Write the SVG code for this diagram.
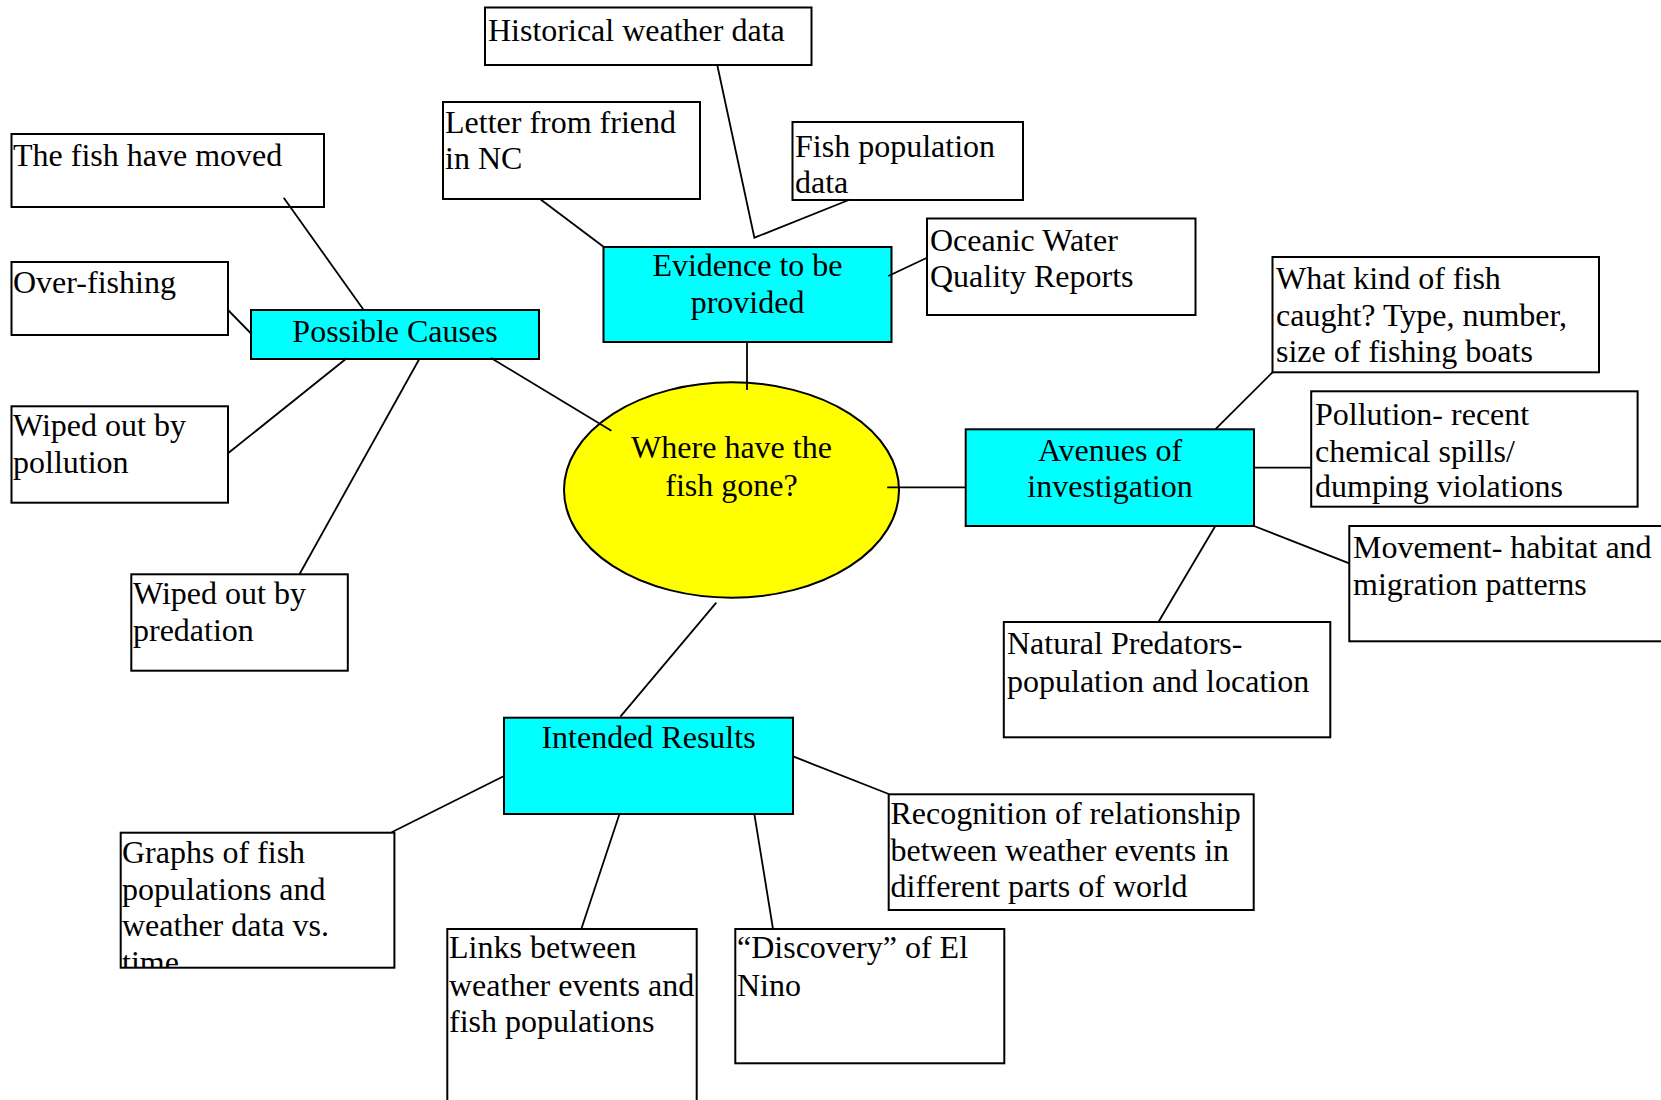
<svg xmlns="http://www.w3.org/2000/svg" width="1661" height="1100" viewBox="0 0 1661 1100">
<style>
.box{fill:#ffffff;stroke:#000;stroke-width:2}
.hub{fill:#00ffff;stroke:#000;stroke-width:2}
.ell{fill:#ffff00;stroke:#000;stroke-width:2}
text{font-family:"Liberation Serif","Times New Roman",serif;font-size:32px;fill:#000}
.c{text-anchor:middle}
.conn line,.conn polyline{stroke:#000;stroke-width:1.8;fill:none}
</style>
<defs>
<clipPath id="clipGraphs"><rect x="120.7" y="832.7" width="273.7" height="135"/></clipPath>
</defs>
<rect x="0" y="0" width="1661" height="1100" fill="#ffffff"/>

<g id="node-historical"><rect class="box" x="485" y="7.5" width="326.5" height="57.5"/><text x="488" y="41">Historical weather data</text></g>
<g id="node-letter"><rect class="box" x="443" y="102" width="257" height="97"/><text x="445" y="132.5">Letter from friend</text><text x="445" y="169">in NC</text></g>
<g id="node-fishpop"><rect class="box" x="792.5" y="122" width="230.5" height="78"/><text x="795" y="157">Fish population</text><text x="795" y="193">data</text></g>
<g id="node-moved"><rect class="box" x="11.5" y="134" width="312.5" height="73"/><text x="13" y="165.5">The fish have moved</text></g>
<g id="node-overfishing"><rect class="box" x="11.5" y="262" width="216.5" height="73"/><text x="13" y="293">Over-fishing</text></g>
<g id="node-causes"><rect class="hub" x="251" y="310" width="288" height="49"/><text class="c" x="395" y="341.5">Possible Causes</text></g>
<g id="node-evidence"><rect class="hub" x="603.5" y="247" width="288" height="95"/><text class="c" x="747.5" y="276">Evidence to be</text><text class="c" x="747.5" y="313">provided</text></g>
<g id="node-oceanic"><rect class="box" x="927" y="218.5" width="268.5" height="96.5"/><text x="930" y="250.5">Oceanic Water</text><text x="930" y="287">Quality Reports</text></g>
<g id="node-whatkind"><rect class="box" x="1272.5" y="257" width="326.5" height="115.3"/><text x="1276" y="288.5">What kind of fish</text><text x="1276" y="325.5">caught? Type, number,</text><text x="1276" y="362">size of fishing boats</text></g>
<g id="node-center"><ellipse class="ell" cx="731.5" cy="490" rx="167.5" ry="107.7"/><text class="c" x="731.5" y="458.3">Where have the</text><text class="c" x="731.5" y="495.7">fish gone?</text></g>
<g id="node-wiped-pollution"><rect class="box" x="11.5" y="406.3" width="216.5" height="96.4"/><text x="13" y="436">Wiped out by</text><text x="13" y="473">pollution</text></g>
<g id="node-wiped-predation"><rect class="box" x="131.3" y="574.3" width="216.5" height="96.4"/><text x="133" y="604">Wiped out by</text><text x="133" y="640.7">predation</text></g>
<g id="node-avenues"><rect class="hub" x="965.7" y="429.3" width="288.3" height="96.7"/><text class="c" x="1110" y="460.7">Avenues of</text><text class="c" x="1110" y="496.7">investigation</text></g>
<g id="node-pollution"><rect class="box" x="1311.2" y="391.3" width="326.4" height="115.4"/><text x="1315" y="425">Pollution- recent</text><text x="1315" y="461.7">chemical spills/</text><text x="1315" y="496.7">dumping violations</text></g>
<g id="node-movement"><rect class="box" x="1349.3" y="526" width="330" height="115.3"/><text x="1353" y="558.3">Movement- habitat and</text><text x="1353" y="595">migration patterns</text></g>
<g id="node-predators"><rect class="box" x="1003.8" y="622" width="326.5" height="115.3"/><text x="1007" y="654">Natural Predators-</text><text x="1007" y="691.7">population and location</text></g>
<g id="node-intended"><rect class="hub" x="504" y="717.7" width="289" height="96.3"/><text class="c" x="648.5" y="748.3">Intended Results</text></g>
<g id="node-graphs"><rect class="box" x="120.7" y="832.7" width="273.7" height="135"/><g clip-path="url(#clipGraphs)"><text x="122" y="863.3">Graphs of fish</text><text x="122" y="900">populations and</text><text x="122" y="936">weather data vs.</text><text x="122" y="972.7">time</text></g></g>
<g id="node-links"><rect class="box" x="447.3" y="929" width="249.4" height="200"/><text x="449" y="958.3">Links between</text><text x="449" y="995.7">weather events and</text><text x="449" y="1032.3">fish populations</text></g>
<g id="node-discovery"><rect class="box" x="735.3" y="929" width="269" height="134.3"/><text x="737" y="958.3">“Discovery” of El</text><text x="737" y="996">Nino</text></g>
<g id="node-recognition"><rect class="box" x="888.7" y="794.3" width="365" height="115.7"/><text x="890.5" y="824">Recognition of relationship</text><text x="890.5" y="860.7">between weather events in</text><text x="890.5" y="897.3">different parts of world</text></g>

<g id="connectors" class="conn">
<line x1="283.7" y1="197.7" x2="363.7" y2="310"/>
<line x1="228" y1="310" x2="251.5" y2="334"/>
<line x1="346.7" y1="358.3" x2="228" y2="453.3"/>
<line x1="419.3" y1="359" x2="299.6" y2="574"/>
<line x1="491" y1="358" x2="611.4" y2="430.7"/>
<line x1="540" y1="199" x2="603.5" y2="246.7"/>
<polyline points="717.3,65.3 754.4,237.7 850,199.5"/>
<line x1="747" y1="342" x2="747" y2="390"/>
<line x1="888.3" y1="276" x2="927" y2="257.7"/>
<line x1="887.2" y1="487.3" x2="965.7" y2="487.3"/>
<line x1="1215.3" y1="429.3" x2="1272.5" y2="372.3"/>
<line x1="1254" y1="467.7" x2="1311.2" y2="467.7"/>
<line x1="1254" y1="526" x2="1349.3" y2="563.3"/>
<line x1="1215.3" y1="526" x2="1158.6" y2="621.7"/>
<line x1="716.3" y1="602.7" x2="620.4" y2="716.7"/>
<line x1="504" y1="776" x2="391.7" y2="832.3"/>
<line x1="619.4" y1="814.3" x2="581.3" y2="929"/>
<line x1="754.4" y1="814.3" x2="773" y2="929"/>
<line x1="793.8" y1="756.7" x2="888.7" y2="794"/>
</g>
</svg>
